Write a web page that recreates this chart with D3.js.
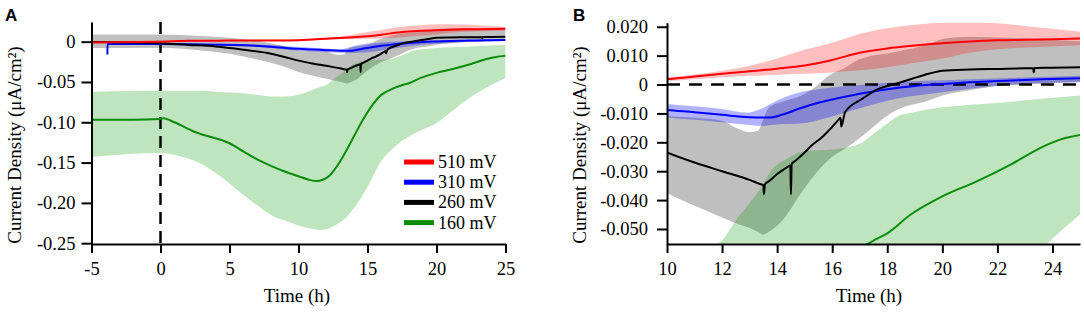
<!DOCTYPE html>
<html><head><meta charset="utf-8">
<script src="https://cdn.jsdelivr.net/npm/d3@7"></script>
<style>
body{margin:0;background:#fff}
svg{display:block}
text{font-family:"Liberation Serif","Times New Roman",serif;fill:#000}
</style>
</head><body>
<svg id="c" width="1084" height="312"></svg>
<script>
// ---------------- DATA ----------------
const seriesNames = ["510 mV", "310 mV", "260 mV", "160 mV"];

// 510 mV (red)
const t510 = [-5, -2, 0, 2, 5, 8, 10, 11, 12, 13, 14, 15, 16, 17, 18, 19, 20, 21, 22, 23, 24, 25];
const v510 = [-0.001, -0.0005, 0, 0.001, 0.0013, 0.0015, 0.0019, 0.0028, 0.0037, 0.0046, 0.0055, 0.0066, 0.0085, 0.011, 0.0125, 0.0135, 0.0143, 0.0149, 0.0153, 0.0155, 0.0157, 0.0159];
const tb510 = [-5, 0, 5, 8, 10, 11, 12, 13, 14, 15, 16, 17, 18, 19, 20, 21, 22, 23, 24, 25];
const hi510 = [0.0005, 0.001, 0.002, 0.0025, 0.0026, 0.0035, 0.0048, 0.0065, 0.009, 0.012, 0.0145, 0.0175, 0.0195, 0.0207, 0.0215, 0.0217, 0.0212, 0.0203, 0.0193, 0.0183];
const lo510 = [-0.0015, -0.0008, 0.0007, 0.001, 0.0012, 0.0018, 0.0025, 0.003, 0.0033, 0.0037, 0.0042, 0.0049, 0.006, 0.0075, 0.009, 0.011, 0.0122, 0.0128, 0.0132, 0.0136];

// 310 mV (blue)
const t310 = [-3.85, -3.84, -3, 0, 2, 4.4, 6, 8, 10, 11, 12, 13, 13.75, 14.2, 14.84, 15.5, 16, 17, 18, 19, 20, 21, 22, 23, 24, 25];
const v310 = [-0.016, -0.003, -0.003, -0.003, -0.0033, -0.0037, -0.0045, -0.0062, -0.0088, -0.0096, -0.0105, -0.0113, -0.0114, -0.0104, -0.0082, -0.0063, -0.0052, -0.0032, -0.0016, -0.0005, 0.0002, 0.0008, 0.0012, 0.0016, 0.0019, 0.0022];
const tb310 = [-3.84, 0, 5, 8, 10, 11, 12, 12.9, 13.4, 14, 14.84, 15.87, 17, 18.3, 20, 21, 22.2, 25];
const hi310 = [-0.002, -0.002, -0.0025, -0.004, -0.0067, -0.0075, -0.0085, -0.0098, -0.0085, -0.0055, -0.0027, -0.0012, -0.0002, 0.0008, 0.0015, 0.0018, 0.0022, 0.003];
const lo310 = [-0.004, -0.004, -0.0045, -0.008, -0.0114, -0.0122, -0.0131, -0.0139, -0.0143, -0.0138, -0.0135, -0.0114, -0.0082, -0.005, -0.0027, -0.0015, -0.0003, 0.0008];

// 260 mV (black)
const t260 = [-5, -2, 0, 2, 4, 6, 8, 9, 10, 11, 12, 13, 13.4, 13.5, 13.52, 13.56, 13.7, 14, 14.3, 14.48, 14.5, 14.53, 14.65, 15, 15.26, 15.6, 15.87, 16.2, 16.3, 16.33, 16.47, 17.08, 17.68, 18.29, 18.9, 19.5, 20, 21, 22, 23, 23.3, 23.32, 23.35, 24, 25];
const v260 = [-0.0005, -0.001, -0.002, -0.004, -0.006, -0.010, -0.015, -0.019, -0.0235, -0.027, -0.030, -0.033, -0.0345, -0.0348, -0.038, -0.0345, -0.0335, -0.031, -0.029, -0.028, -0.038, -0.0275, -0.0265, -0.0235, -0.021, -0.0185, -0.016, -0.0125, -0.0115, -0.0145, -0.0095, -0.005, -0.0015, 0.0002, 0.002, 0.0037, 0.0048, 0.0052, 0.0054, 0.0056, 0.0056, 0.0042, 0.0057, 0.0058, 0.006];
const tb260 = [-5, 0, 3, 5, 7, 8, 9, 10, 11, 12, 12.5, 13, 13.3, 13.5, 13.7, 14.2, 14.84, 15.3, 15.87, 16.5, 17, 18.3, 19.5, 20, 21, 22, 23, 24, 25];
const hi260 = [0.009, 0.009, 0.007, 0.005, 0.001, -0.002, -0.006, -0.0108, -0.0115, -0.0125, -0.015, -0.0165, -0.016, -0.012, -0.008, -0.006, -0.004, -0.0015, 0.003, 0.006, 0.0088, 0.0113, 0.014, 0.0158, 0.0165, 0.0163, 0.016, 0.0155, 0.015];
const lo260 = [-0.008, -0.0075, -0.011, -0.015, -0.022, -0.026, -0.031, -0.0375, -0.042, -0.046, -0.048, -0.0497, -0.051, -0.052, -0.051, -0.047, -0.038, -0.032, -0.026, -0.022, -0.0185, -0.009, -0.0055, -0.0038, -0.002, -0.0005, 0.0, 0.0005, 0.001];

// 160 mV (green)
const t160 = [-5, -2, 0, 0.2, 1, 2.5, 5, 6, 7, 8, 9, 10, 10.7, 11.3, 11.8, 12.2, 12.6, 13, 13.5, 14, 14.7, 15.3, 16, 16.5, 17, 17.5, 18, 18.85, 20, 21.25, 22.5, 23.7, 24.3, 25];
const v160 = [-0.097, -0.097, -0.096, -0.095, -0.1, -0.112, -0.126, -0.136, -0.146, -0.154, -0.161, -0.167, -0.171, -0.173, -0.171, -0.167, -0.159, -0.149, -0.134, -0.118, -0.096, -0.08, -0.066, -0.061, -0.057, -0.054, -0.0515, -0.045, -0.0387, -0.0335, -0.0276, -0.0213, -0.019, -0.0175];
const tb160 = [-5, 0, 2, 3, 4, 5, 6, 7, 8, 9, 10, 10.35, 11, 11.56, 12, 12.5, 13, 13.4, 13.85, 14.3, 15, 16, 17, 17.5, 18, 18.3, 19, 20, 21, 22.2, 23.5, 25];
const hi160 = [-0.062, -0.061, -0.061, -0.061, -0.062, -0.063, -0.064, -0.066, -0.068, -0.068, -0.066, -0.064, -0.060, -0.056, -0.054, -0.047, -0.041, -0.036, -0.029, -0.026, -0.023, -0.0225, -0.0205, -0.017, -0.0135, -0.0114, -0.0095, -0.0079, -0.007, -0.0062, -0.005, -0.0038];
const lo160 = [-0.143, -0.138, -0.145, -0.152, -0.163, -0.176, -0.19, -0.203, -0.215, -0.222, -0.228, -0.23, -0.232, -0.2335, -0.233, -0.229, -0.224, -0.219, -0.21, -0.2, -0.18, -0.148, -0.13, -0.123, -0.118, -0.115, -0.109, -0.101, -0.088, -0.072, -0.058, -0.045];

// Axis ticks
const xTicksA = [-5, 0, 5, 10, 15, 20, 25];
const yTicksA = [0, -0.05, -0.10, -0.15, -0.20, -0.25];
const yTickLabelsA = ["0", "-0.05", "-0.10", "-0.15", "-0.20", "-0.25"];
const xTicksB = [10, 12, 14, 16, 18, 20, 22, 24];
const yTicksB = [0.02, 0.01, 0, -0.01, -0.02, -0.03, -0.04, -0.05];
const yTickLabelsB = ["0.020", "0.010", "0", "-0.010", "-0.020", "-0.030", "-0.040", "-0.050"];

// ---------------- STYLE ----------------
const lineColors = ["#ff0000", "#0000ff", "#000000", "#0a8c0a"];
const bandColors = ["rgba(255,0,0,0.25)", "rgba(0,0,255,0.3)", "rgba(0,0,0,0.25)", "rgba(0,150,0,0.25)"];

const series = [
  {name: seriesNames[0], line: lineColors[0], band: bandColors[0], t: t510, v: v510, bt: tb510, hi: hi510, lo: lo510},
  {name: seriesNames[1], line: lineColors[1], band: bandColors[1], t: t310, v: v310, bt: tb310, hi: hi310, lo: lo310},
  {name: seriesNames[2], line: lineColors[2], band: bandColors[2], t: t260, v: v260, bt: tb260, hi: hi260, lo: lo260},
  {name: seriesNames[3], line: lineColors[3], band: bandColors[3], t: t160, v: v160, bt: tb160, hi: hi160, lo: lo160}
];

const svg = d3.select("#c");
const SERIF = "Liberation Serif, Times New Roman, serif";

function panel(cfg) {
  const x = d3.scaleLinear().domain(cfg.xDomain).range(cfg.xRange);
  const y = d3.scaleLinear().domain(cfg.yDomain).range(cfg.yRange);
  const g = svg.append("g");
  const clipId = "clip" + cfg.id;
  svg.append("defs").append("clipPath").attr("id", clipId)
    .append("rect")
    .attr("x", cfg.xRange[0]).attr("y", cfg.yRange[1])
    .attr("width", cfg.xRange[1] - cfg.xRange[0])
    .attr("height", cfg.yRange[0] - cfg.yRange[1]);
  const plot = g.append("g").attr("clip-path", `url(#${clipId})`);

  const area = d3.area().x(d => x(d.t)).y0(d => y(d.lo)).y1(d => y(d.hi)).curve(d3.curveMonotoneX);
  const line = d3.line().x(d => x(d.t)).y(d => y(d.v)).curve(d3.curveMonotoneX);

  // bands: grey, green, blue, red
  [2, 3, 1, 0].forEach(i => {
    const s = series[i];
    const data = s.bt.map((t, k) => ({t, hi: s.hi[k], lo: s.lo[k]}));
    plot.append("path").attr("d", area(data)).attr("fill", s.band).attr("stroke", "none");
  });

  // dashed reference line
  if (cfg.vline !== undefined) {
    plot.append("line")
      .attr("x1", x(cfg.vline)).attr("x2", x(cfg.vline))
      .attr("y1", cfg.yRange[1]).attr("y2", cfg.yRange[0])
      .attr("stroke", "#000").attr("stroke-width", 2.5).attr("stroke-dasharray", "12,7");
  }
  if (cfg.hline !== undefined) {
    plot.append("line")
      .attr("x1", cfg.xRange[0]).attr("x2", cfg.xRange[1])
      .attr("y1", y(cfg.hline)).attr("y2", y(cfg.hline))
      .attr("stroke", "#000").attr("stroke-width", 2.5).attr("stroke-dasharray", "13,9");
  }

  // lines: green, blue, black, red
  [3, 1, 2, 0].forEach(i => {
    const s = series[i];
    const data = s.t.map((t, k) => ({t, v: s.v[k]}));
    plot.append("path").attr("d", line(data)).attr("fill", "none")
      .attr("stroke", s.line).attr("stroke-width", 2).attr("stroke-linejoin", "round");
  });

  // axes
  const xAxis = d3.axisBottom(x).tickValues(cfg.xTicks).tickFormat(d => d < 0 ? "-" + Math.abs(d) : String(d))
    .tickSize(9).tickSizeOuter(0).tickPadding(9);
  const yAxis = d3.axisLeft(y).tickValues(cfg.yTicks).tickFormat((d, i) => cfg.yLabels[i])
    .tickSize(10).tickSizeOuter(0).tickPadding(cfg.yPad);

  const gx = g.append("g").attr("transform", `translate(0,${cfg.yRange[0]})`).call(xAxis);
  const gy = g.append("g").attr("transform", `translate(${cfg.xRange[0]},0)`).call(yAxis);
  [gx, gy].forEach(a => {
    a.attr("font-family", SERIF).attr("font-size", 18.5);
    a.select(".domain").attr("stroke", "#000").attr("stroke-width", 2);
    a.selectAll(".tick line").attr("stroke", "#000").attr("stroke-width", 2);
    a.selectAll(".tick text").attr("font-size", 18.5).attr("fill", "#000");
  });

  // titles
  g.append("text").attr("x", cfg.xTitleX).attr("y", 302).attr("text-anchor", "middle")
    .attr("font-size", 19).text("Time (h)");
  g.append("text").attr("transform", `translate(${cfg.yTitleX},145) rotate(-90)`)
    .attr("text-anchor", "middle").attr("font-size", 19).text("Current Density (μA/cm²)");
  g.append("text").attr("x", cfg.letterX).attr("y", 21)
    .attr("font-weight", "bold").attr("font-size", 17)
    .style("font-family", "Liberation Sans, Arial, sans-serif").text(cfg.letter);

  if (cfg.legend) {
    const lg = g.append("g");
    series.forEach((s, i) => {
      const yy = 162 + i * 20.2;
      lg.append("line").attr("x1", 404).attr("x2", 434).attr("y1", yy).attr("y2", yy)
        .attr("stroke", s.line).attr("stroke-width", 5);
      lg.append("text").attr("x", 438).attr("y", yy + 6).attr("font-size", 18).text(s.name);
    });
  }
}

panel({
  id: "A", letter: "A", letterX: 5,
  xDomain: [-5, 25], xRange: [91.5, 505.5],
  yDomain: [-0.251, 0.0244], yRange: [244, 22],
  xTicks: xTicksA, yTicks: yTicksA, yLabels: yTickLabelsA, yPad: 6,
  vline: 0, xTitleX: 297, yTitleX: 21, legend: true
});

panel({
  id: "B", letter: "B", letterX: 573,
  xDomain: [10, 25], xRange: [667, 1080],
  yDomain: [-0.0552, 0.0214], yRange: [244, 22.7],
  xTicks: xTicksB, yTicks: yTicksB, yLabels: yTickLabelsB, yPad: 9,
  hline: 0, xTitleX: 869, yTitleX: 586, legend: false
});
</script>
</body></html>
